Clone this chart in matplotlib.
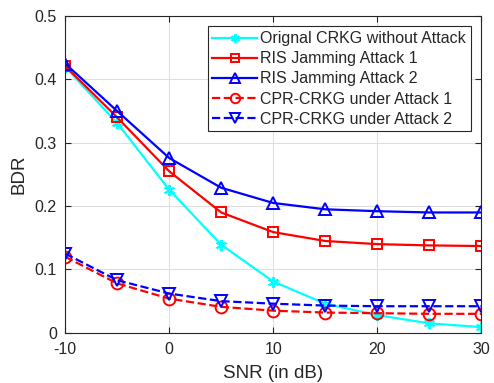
import matplotlib
matplotlib.use("Agg")
import matplotlib.pyplot as plt

plt.rcParams['font.family'] = ['Liberation Sans', 'DejaVu Sans']

snr = [-10, -5, 0, 5, 10, 15, 20, 25, 30]
orig = [0.420, 0.331, 0.226, 0.139, 0.081, 0.046, 0.028, 0.015, 0.009]
ris1 = [0.421, 0.340, 0.255, 0.190, 0.159, 0.145, 0.140, 0.138, 0.137]
ris2 = [0.425, 0.350, 0.276, 0.229, 0.205, 0.195, 0.192, 0.190, 0.190]
cpr1 = [0.120, 0.078, 0.054, 0.041, 0.035, 0.032, 0.031, 0.030, 0.030]
cpr2 = [0.125, 0.083, 0.062, 0.050, 0.046, 0.043, 0.042, 0.042, 0.042]
labels = ['Orignal CRKG without Attack', 'RIS Jamming Attack 1', 'RIS Jamming Attack 2',
          'CPR-CRKG under Attack 1', 'CPR-CRKG under Attack 2']
xticks = [-10, 0, 10, 20, 30]
yticks = [0, 0.1, 0.2, 0.3, 0.4, 0.5]
yticklabels = ['0', '0.1', '0.2', '0.3', '0.4', '0.5']

fig = plt.figure(figsize=(4.94, 3.83), dpi=100)
ax = fig.add_axes([0.132, 0.131, 0.842, 0.827])

lw = 1.6
ax.plot(snr, orig, '-', color='#00FFFF', marker=(6, 2, 0), ms=8, mew=1.4, lw=lw, label=labels[0])
ax.plot(snr, ris1, '-', color='#FF0000', marker='s', ms=7.5, mfc='none', mew=1.4, lw=lw, label=labels[1])
ax.plot(snr, ris2, '-', color='#0000FF', marker='^', ms=9, mfc='none', mew=1.4, lw=lw, label=labels[2])
ax.plot(snr, cpr1, '--', color='#FF0000', marker='o', ms=8.5, mfc='none', mew=1.4, lw=lw, label=labels[3])
ax.plot(snr, cpr2, '--', color='#0000FF', marker='v', ms=9, mfc='none', mew=1.4, lw=lw, label=labels[4])

ax.set_xlim(-10, 30)
ax.set_ylim(0, 0.5)
ax.set_xticks(xticks)
ax.set_xticklabels([str(t) for t in xticks])
ax.set_yticks(yticks)
ax.set_yticklabels(yticklabels)
ax.grid(True, color='#DFDFDF', lw=0.8)
ax.set_axisbelow(True)
ax.tick_params(direction='in', top=True, right=True, labelsize=11.5, colors='#262626', length=4)
ax.tick_params(axis='y', pad=6)
ax.tick_params(axis='x', pad=6.5)
for s in ax.spines.values():
    s.set_color('#262626')
    s.set_linewidth(0.8)
ax.set_xlabel('SNR (in dB)', fontsize=13.5, color='#262626', labelpad=6)
ax.set_ylabel('BDR', fontsize=13.5, color='#262626', labelpad=5)

leg = ax.legend(loc='upper right', fontsize=11.5, frameon=True, fancybox=False,
                edgecolor='#262626', framealpha=1, borderpad=0.3, labelspacing=0.32,
                handlelength=2.8, handletextpad=0.2, borderaxespad=0.65, markerscale=0.8)
leg.get_frame().set_linewidth(0.8)
for t in leg.get_texts():
    t.set_color('#262626')

fig.savefig('out.png', dpi=100)
